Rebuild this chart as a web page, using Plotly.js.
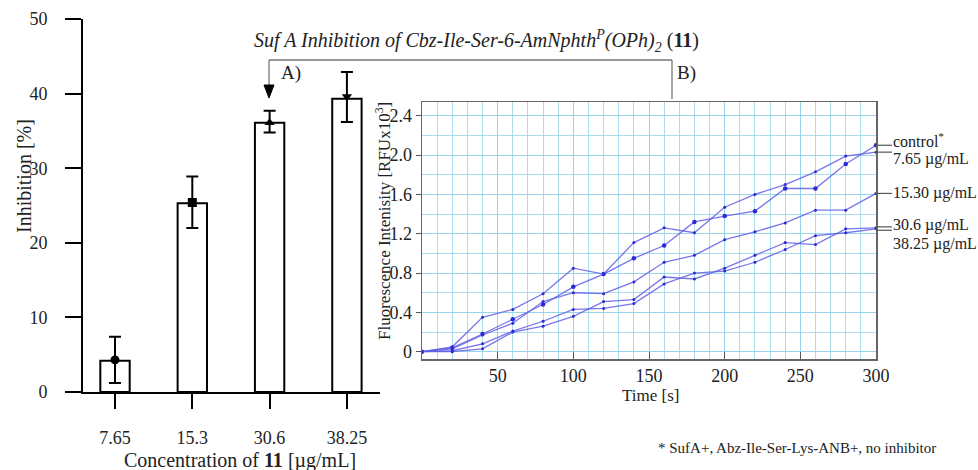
<!DOCTYPE html>
<html>
<head>
<meta charset="utf-8">
<script src="https://cdn.plot.ly/plotly-3.0.1.min.js"></script>
<style>html,body{margin:0;padding:0;background:#fff;}#chart{width:978px;height:470px;}</style>
</head>
<body>
<div id="chart"></div>
<script>
// ---- Bar chart (A) data ----
const concentrations = ['7.65', '15.3', '30.6', '38.25'];
const inhibition = [4.2, 25.3, 36.1, 39.3];
const meanPoint = [4.3, 25.4, 36.1, 39.6];
const errUpper = [7.4, 28.9, 37.7, 42.9];
const errLower = [1.2, 22.0, 34.8, 36.2];
const markerSymbols = ['circle', 'square', 'triangle-up', 'triangle-down'];

// ---- Inset (B) data ----
const timeS = [0, 20, 40, 60, 80, 100, 120, 140, 160, 180, 200, 220, 240, 260, 280, 300];
const control = [0, 0.04, 0.18, 0.33, 0.48, 0.66, 0.79, 0.95, 1.08, 1.32, 1.38, 1.43, 1.66, 1.66, 1.91, 2.10];
const c765 = [0, 0.05, 0.35, 0.43, 0.59, 0.85, 0.79, 1.11, 1.26, 1.21, 1.47, 1.60, 1.70, 1.83, 1.99, 2.03];
const c1530 = [0, 0.03, 0.17, 0.29, 0.51, 0.60, 0.59, 0.71, 0.91, 0.98, 1.14, 1.22, 1.31, 1.44, 1.44, 1.61];
const c306 = [0, 0.0, 0.03, 0.20, 0.26, 0.36, 0.51, 0.53, 0.76, 0.74, 0.85, 0.98, 1.11, 1.09, 1.25, 1.26];
const c3825 = [0, 0.01, 0.08, 0.21, 0.31, 0.43, 0.44, 0.49, 0.69, 0.80, 0.82, 0.91, 1.04, 1.18, 1.21, 1.25];
const seriesNames = ['control*', '7.65 µg/mL', '15.30 µg/mL', '30.6 µg/mL', '38.25 µg/mL'];
const seriesLabels = ['control<sup>*</sup>', '7.65 µg/mL', '15.30 µg/mL', '30.6 µg/mL', '38.25 µg/mL'];

const W = 978, H = 470;
const px = x => x / W;
const py = y => 1 - y / H;
const SERIF = 'Liberation Serif, Times New Roman, serif';
const TXT = '#222';

const traces = [];
traces.push({
  type: 'bar', x: concentrations, y: inhibition, width: 0.38,
  marker: {color: '#fff', line: {color: '#000', width: 2}},
  xaxis: 'x', yaxis: 'y', showlegend: false, hoverinfo: 'skip'
});
traces.push({
  type: 'scatter', mode: 'markers', x: concentrations, y: meanPoint,
  marker: {symbol: markerSymbols, size: 9, color: '#000'},
  error_y: {type: 'data', symmetric: false,
    array: errUpper.map((u, i) => u - meanPoint[i]),
    arrayminus: errLower.map((l, i) => meanPoint[i] - l),
    color: '#000', thickness: 2, width: 6},
  xaxis: 'x', yaxis: 'y', showlegend: false
});

const allSeries = [control, c765, c1530, c306, c3825];
allSeries.forEach((s, i) => {
  traces.push({
    type: 'scatter', mode: 'lines+markers', x: timeS, y: s, name: seriesNames[i],
    line: {color: 'rgba(95,95,230,0.85)', width: 1.3},
    marker: {color: '#2a2ad6', size: i === 0 ? 4.5 : 3},
    xaxis: 'x2', yaxis: 'y2', showlegend: false
  });
});

const labelY = [2.15, 1.96, 1.61, 1.29, 1.10];
const leaderY = [2.10, 2.03, 1.61, 1.27, 1.235];
const shapes = [];
const annotations = [];
seriesLabels.forEach((t, i) => {
  annotations.push({xref: 'paper', yref: 'y2', x: px(891), y: labelY[i], text: t,
    showarrow: false, xanchor: 'left', yanchor: 'middle',
    font: {family: SERIF, size: 16, color: TXT}});
  shapes.push({type: 'line', xref: 'paper', yref: 'y2', x0: px(876), x1: px(892),
    y0: leaderY[i], y1: leaderY[i], line: {color: '#555', width: 1.2}});
});

// bracket linking A) and B)
shapes.push({type: 'line', xref: 'paper', yref: 'paper', x0: px(269), x1: px(672), y0: py(60), y1: py(60), line: {color: '#777', width: 1.3}});
shapes.push({type: 'line', xref: 'paper', yref: 'paper', x0: px(269), x1: px(269), y0: py(60), y1: py(86), line: {color: '#777', width: 1.3}});
shapes.push({type: 'line', xref: 'paper', yref: 'paper', x0: px(672), x1: px(672), y0: py(60), y1: py(99), line: {color: '#777', width: 1.3}});
shapes.push({type: 'path', xref: 'paper', yref: 'paper',
  path: `M ${px(264)} ${py(85)} L ${px(274)} ${py(85)} L ${px(269)} ${py(98)} Z`,
  fillcolor: '#000', line: {color: '#000', width: 1}});

annotations.push({xref: 'paper', yref: 'paper', x: px(476), y: py(41),
  text: '<i>Suf A Inhibition of Cbz-Ile-Ser-6-AmNphth<sup>P</sup>(OPh)<sub>2</sub></i> (<b>11</b>)',
  showarrow: false, xanchor: 'center', yanchor: 'middle', font: {family: SERIF, size: 20, color: TXT}});
annotations.push({xref: 'paper', yref: 'paper', x: px(279), y: py(73), text: 'A)',
  showarrow: false, xanchor: 'left', yanchor: 'middle', font: {family: SERIF, size: 19, color: TXT}});
annotations.push({xref: 'paper', yref: 'paper', x: px(675), y: py(73), text: 'B)',
  showarrow: false, xanchor: 'left', yanchor: 'middle', font: {family: SERIF, size: 19, color: TXT}});
annotations.push({xref: 'paper', yref: 'paper', x: px(24), y: py(176), text: 'Inhibition [%]',
  textangle: -90, showarrow: false, xanchor: 'center', yanchor: 'middle', font: {family: SERIF, size: 20, color: TXT}});
annotations.push({xref: 'paper', yref: 'paper', x: px(240), y: py(460), text: 'Concentration of <b>11</b> [µg/mL]',
  showarrow: false, xanchor: 'center', yanchor: 'middle', font: {family: SERIF, size: 20, color: TXT}});
annotations.push({xref: 'paper', yref: 'paper', x: px(383), y: py(221), text: 'Fluorescence Intenisity [RFUx10<sup>3</sup>]',
  textangle: -90, showarrow: false, xanchor: 'center', yanchor: 'middle', font: {family: SERIF, size: 17, color: TXT}});
annotations.push({xref: 'paper', yref: 'paper', x: px(650), y: py(395), text: 'Time [s]',
  showarrow: false, xanchor: 'center', yanchor: 'middle', font: {family: SERIF, size: 17, color: TXT}});
annotations.push({xref: 'paper', yref: 'paper', x: px(797), y: py(448), text: '* SufA+, Abz-Ile-Ser-Lys-ANB+, no inhibitor',
  showarrow: false, xanchor: 'center', yanchor: 'middle', font: {family: SERIF, size: 15, color: TXT}});

const layout = {
  width: W, height: H,
  margin: {l: 0, r: 0, t: 0, b: 0},
  paper_bgcolor: '#fff', plot_bgcolor: 'rgba(0,0,0,0)',
  showlegend: false,
  xaxis: {domain: [px(83), px(380)], anchor: 'y', type: 'category',
    range: [-0.414, 3.428], showline: true, linecolor: '#000', linewidth: 2,
    ticks: 'outside', ticklen: 15, tickwidth: 2, tickcolor: '#000',
    ticklabelstandoff: 13, showgrid: false, zeroline: false,
    tickfont: {family: SERIF, size: 18, color: TXT}},
  yaxis: {domain: [py(392), py(19)], anchor: 'x', range: [0, 50],
    tickvals: [0, 10, 20, 30, 40, 50], showline: true, linecolor: '#000', linewidth: 2,
    ticks: 'outside', ticklen: 16, tickwidth: 2, tickcolor: '#000',
    ticklabelstandoff: 14, showgrid: false, zeroline: false,
    tickfont: {family: SERIF, size: 18, color: TXT}},
  xaxis2: {domain: [px(422), px(876)], anchor: 'y2', range: [0, 300],
    tickvals: [50, 100, 150, 200, 250, 300], ticks: 'inside', ticklen: 7, tickcolor: '#555',
    showline: true, mirror: true, linecolor: '#666', linewidth: 1.5,
    showgrid: true, gridcolor: 'rgba(150,210,235,0.8)', gridwidth: 1,
    minor: {dtick: 10, showgrid: true, gridcolor: 'rgba(150,210,235,0.8)', gridwidth: 1},
    zeroline: false, ticklabelstandoff: 0,
    tickfont: {family: SERIF, size: 18, color: TXT}},
  yaxis2: {domain: [py(359), py(102)], anchor: 'x2', range: [-0.074, 2.54],
    tickvals: [0, 0.4, 0.8, 1.2, 1.6, 2.0, 2.4], ticktext: ['0', '0.4', '0.8', '1.2', '1.6', '2.0', '2.4'],
    ticks: 'outside', ticklen: 5, tickcolor: '#555',
    showline: true, mirror: true, linecolor: '#666', linewidth: 1.5,
    showgrid: true, gridcolor: 'rgba(150,210,235,0.8)', gridwidth: 1,
    minor: {dtick: 0.2, showgrid: true, gridcolor: 'rgba(150,210,235,0.8)', gridwidth: 1},
    zeroline: false, ticklabelstandoff: 0,
    tickfont: {family: SERIF, size: 18, color: TXT}},
  shapes: shapes,
  annotations: annotations
};

Plotly.newPlot('chart', traces, layout, {staticPlot: true, displayModeBar: false});
</script>
</body>
</html>
